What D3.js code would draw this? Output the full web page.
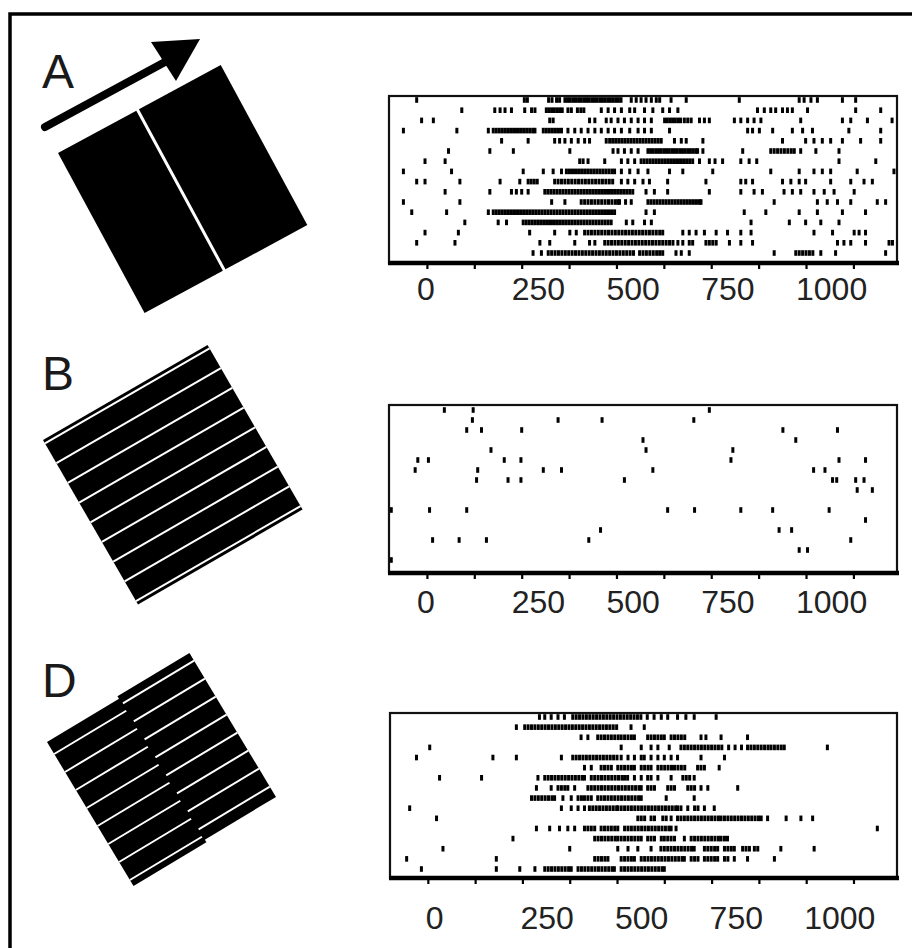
<!DOCTYPE html>
<html><head><meta charset="utf-8">
<script src="https://cdn.jsdelivr.net/npm/d3@7"></script>
<style>body{margin:0;background:#fff}svg{display:block}</style>
</head><body>
<svg id="c" width="912" height="948"></svg>
<script>
// ---------------- DATA ----------------
const panelLabels = ["A", "B", "D"];
const tickValues = [0, 125, 250, 375, 500, 625, 750, 875, 1000, 1125];
const tickLabels = [0, 250, 500, 750, 1000];
const timeDomain = [-100, 1240];   // ms
const trialCount = 16;

// spike times (ms) per trial, panel A
const spikesA = [
  [-27,257,265,321,330,342,350,364,371,378,385,392,400,407,414,421,428,435,442,449,456,463,470,477,484,491,498,505,512,539,552,565,578,592,605,614,644,684,824,982,995,1013,1030,1096,1131],
  [92,179,193,206,223,258,276,285,315,322,329,336,343,350,357,372,381,397,406,414,460,478,495,513,535,548,574,596,622,640,662,872,890,907,920,938,951,964,1004,1131,1197],
  [-14,17,324,333,429,443,473,486,504,521,539,557,574,592,627,634,641,648,655,662,669,679,688,697,719,732,745,811,828,846,863,881,986,1096,1118,1162,1227],
  [-62,79,162,175,183,191,199,207,215,223,231,239,247,255,263,271,279,285,307,315,323,331,339,347,355,372,390,407,425,443,460,478,495,513,535,557,574,592,640,846,859,877,912,964,991,1017,1113,1197],
  [197,267,337,350,364,381,399,416,429,473,482,490,498,506,514,522,530,538,546,554,562,570,578,586,594,602,610,618,653,671,684,728,938,999,1021,1043,1065,1096,1144,1197],
  [57,166,228,377,491,504,521,539,557,583,590,597,604,611,618,625,632,639,646,653,660,667,674,681,688,695,702,709,714,728,833,907,916,925,934,943,952,961,969,986,1026,1087],
  [-5,48,403,412,425,469,513,530,548,565,573,581,589,597,605,613,621,629,637,645,653,661,669,677,685,693,701,719,745,760,780,828,850,870,1087,1184],
  [-62,65,254,307,333,355,368,376,384,392,400,408,416,424,432,440,448,456,464,472,480,488,495,513,535,557,583,640,675,754,907,982,1021,1043,1065,1135,1232],
  [-27,-5,87,193,245,267,275,283,291,337,346,355,364,373,382,391,400,409,418,427,436,445,454,463,472,481,490,513,530,548,570,587,635,736,828,841,859,938,960,982,999,1065,1118,1153,1175],
  [48,166,223,236,250,267,311,319,327,335,343,351,359,367,375,383,391,399,407,415,423,431,439,447,455,463,471,479,487,495,503,511,519,527,535,543,578,600,635,745,828,863,885,942,964,986,1021,1048,1074,1127],
  [-62,87,329,364,407,416,425,434,443,452,461,470,479,488,497,504,508,524,539,583,591,599,607,615,623,631,639,647,655,663,671,679,687,695,703,711,719,723,916,1030,1056,1083,1118,1188,1210],
  [-40,52,162,175,183,191,199,207,215,223,231,239,247,255,263,271,279,287,295,303,311,319,327,335,343,351,359,367,375,383,391,399,407,415,423,431,439,447,455,463,471,479,487,495,578,600,837,894,982,1030,1096,1157],
  [100,188,210,254,262,270,278,286,294,302,310,318,326,334,342,350,358,366,374,382,390,398,406,414,422,430,438,446,454,462,470,478,486,526,543,574,592,855,956,999,1039,1087],
  [-5,83,271,337,377,394,416,425,434,443,452,461,470,479,488,497,506,515,524,533,542,551,560,569,578,587,596,605,614,622,675,692,710,732,763,793,828,855,1021,1070,1127,1140,1157],
  [-27,74,298,324,390,429,443,469,478,487,496,505,514,523,532,541,550,559,568,577,586,595,604,613,622,631,640,649,662,675,692,701,736,745,754,763,798,828,859,1083,1100,1118,1157,1219,1228],
  [280,302,320,329,338,347,356,365,374,383,392,401,410,419,428,437,446,455,464,473,482,491,500,509,518,527,536,545,561,570,579,588,597,606,614,622,657,671,692,916,973,982,991,1000,1009,1018,1039,1078,1210]
];

// spike times (ms) per trial, panel B
const spikesB = [
  [46,122,745],
  [120,346,462,704],
  [105,144,250,939,1083],
  [570,973],
  [169,578,807],
  [-24,4,204,248,802,1087,1157],
  [-31,134,307,355,596,1020,1050],
  [131,214,248,521,1070,1081,1131,1153],
  [1135,1175],
  [],
  [-94,7,105,635,706,828,912,1061],
  [1157],
  [458,929,962],
  [15,85,157,427,1118],
  [982,1004],
  [-94]
];

// spike times (ms) per trial, panel D
const spikesD = [
  [295,309,326,344,361,383,392,401,410,419,428,437,446,455,464,473,482,491,500,509,518,527,536,545,554,563,580,598,617,634,660,682,704,762],
  [234,256,265,274,283,292,301,310,319,328,337,346,355,364,373,382,391,400,409,418,427,436,445,454,463,472,481,490,499,537,572],
  [405,423,449,458,467,476,485,494,503,511,520,529,538,546,581,590,599,608,617,625,643,652,661,670,679,722,735,775,845],
  [5,511,564,590,608,638,669,678,687,696,705,714,723,732,741,750,759,768,777,795,812,829,845,854,863,872,881,890,899,907,916,925,934,942,1056],
  [-30,172,234,353,383,392,401,410,419,428,437,446,455,464,473,482,491,500,511,529,546,564,572,590,608,625,643,660,722,784],
  [414,432,458,467,476,485,502,511,520,529,538,546,564,573,582,590,608,617,626,635,644,652,661,670,679,713,722,731,770],
  [31,142,291,309,318,327,336,345,354,363,372,381,390,399,408,414,432,441,450,459,468,477,486,495,504,513,520,528,546,564,581,590,608,643,674,683,692,704],
  [287,326,344,353,362,370,388,423,432,441,450,459,468,477,486,495,504,513,522,531,540,549,558,564,581,590,599,634,643,652,687,696,705,722,740,819],
  [274,283,292,301,310,319,328,335,357,379,397,406,414,423,432,449,458,467,476,485,494,503,512,521,530,539,548,557,564,630,704],
  [-48,353,379,397,414,427,436,445,454,463,472,481,490,499,502,511,520,529,538,547,556,565,574,583,592,601,610,619,628,637,646,655,660,669,687,705,714,731,757],
  [23,555,564,573,590,599,621,630,643,660,669,678,687,696,705,714,723,732,741,750,759,768,775,784,793,802,811,820,829,838,847,856,865,874,881,898,947,986,1017],
  [287,322,348,370,388,414,423,432,441,458,467,476,485,494,502,520,529,538,547,556,565,574,583,592,601,610,619,628,637,643,656,1188],
  [225,441,450,459,468,477,486,495,502,511,520,529,538,547,556,564,581,590,599,617,625,634,643,652,678,696,705,714,723,732,741,750,759,768,775,784,792],
  [40,375,502,529,555,590,616,625,634,643,652,661,670,679,688,697,704,731,740,749,758,766,784,793,802,810,832,841,850,863,872,933,1021],
  [-56,181,441,450,459,468,476,511,520,529,538,546,564,573,582,591,600,609,618,627,636,645,654,663,672,678,696,705,714,731,740,749,758,766,784,793,810,845,916],
  [-17,181,243,283,309,318,327,336,345,354,363,372,379,397,406,415,424,433,442,451,460,469,478,487,493,511,520,529,538,547,556,565,574,583,592,601,610,619,625]
];

// ---------------- LAYOUT ----------------
const svg = d3.select("#c");
const W = 912, H = 948;
const INK = "#000";
const FONT = "'Liberation Sans', Arial, Helvetica, sans-serif";

// outer frame (top + left)
svg.append("path")
  .attr("d", `M10,${H} V14 H${W}`)
  .attr("fill", "none").attr("stroke", INK).attr("stroke-width", 3.5);

const panels = [
  { spikes: spikesA, x0: 389, x1: 897, y0: 96,  y1: 263, r0: 100, r1: 253, lblBase: 300, lblDx: -10 },
  { spikes: spikesB, x0: 389, x1: 897, y0: 405, y1: 573, r0: 410, r1: 560, lblBase: 613, lblDx: -10 },
  { spikes: spikesD, x0: 390, x1: 897, y0: 713, y1: 878, r0: 717, r1: 869, lblBase: 929, lblDx: -2 }
];

panels.forEach(p => {
  const g = svg.append("g");
  const x = d3.scaleLinear().domain(timeDomain).range([p.x0, p.x1]);
  const y = d3.scaleLinear().domain([0, trialCount - 1]).range([p.r0, p.r1]);

  // spikes
  p.spikes.forEach((row, i) => {
    g.append("g").selectAll("rect").data(row).join("rect")
      .attr("x", d => x(d) - 1.5)
      .attr("y", y(i) - 2.8)
      .attr("width", 3)
      .attr("height", 5.6)
      .attr("fill", INK);
  });

  // box
  g.append("rect")
    .attr("x", p.x0).attr("y", p.y0)
    .attr("width", p.x1 - p.x0).attr("height", p.y1 - p.y0)
    .attr("fill", "none").attr("stroke", "#111").attr("stroke-width", 2.2);

  // axis
  const axis = d3.axisBottom(x)
    .tickValues(tickValues)
    .tickSize(4)
    .tickSizeOuter(0)
    .tickFormat(() => "");
  const ax = g.append("g").attr("transform", `translate(0,${p.y1})`).call(axis);
  ax.select(".domain").attr("stroke", INK).attr("stroke-width", 4.5)
    .attr("d", `M${p.x0 - 1},0H${p.x1 + 2}`);
  ax.selectAll(".tick line").attr("stroke", INK).attr("stroke-width", 2.2)
    .attr("y1", 1).attr("y2", 6);

  // tick labels
  g.append("g").selectAll("text").data(tickLabels).join("text")
    .attr("x", d => x(d) + p.lblDx)
    .attr("y", p.lblBase)
    .attr("text-anchor", "start")
    .attr("font-family", FONT)
    .attr("font-size", 32)
    .attr("fill", "#222")
    .text(d => d);
});

// ---------------- STIMULUS PICTOGRAMS ----------------
// panel letters
const letterPos = [[42, 88], [42, 390], [42, 697]];
svg.append("g").selectAll("text").data(panelLabels).join("text")
  .attr("x", (d, i) => letterPos[i][0])
  .attr("y", (d, i) => letterPos[i][1])
  .attr("font-family", FONT)
  .attr("font-size", 48)
  .attr("fill", "#1a1a1a")
  .text(d => d);

// A: two abutting bars + arrow
{
  const g = svg.append("g").attr("transform", "translate(58,153) rotate(-28.4)");
  g.append("rect").attr("x", 0).attr("y", 0).attr("width", 89).attr("height", 182).attr("fill", INK);
  g.append("rect").attr("x", 92).attr("y", 0).attr("width", 93).attr("height", 182).attr("fill", INK);
  const a = svg.append("g");
  a.append("line").attr("x1", 45).attr("y1", 127).attr("x2", 165).attr("y2", 62)
    .attr("stroke", INK).attr("stroke-width", 8).attr("stroke-linecap", "round");
  a.append("path").attr("d", "M151,42 L200,39 L176,81 Z").attr("fill", INK);
}

// B: square grating
{
  const S = 190;
  const g = svg.append("g").attr("transform", "translate(43,440) rotate(-30)");
  g.append("rect").attr("width", S).attr("height", S).attr("fill", INK);
  d3.range(9).forEach(k => {
    g.append("line").attr("x1", 0).attr("x2", S)
      .attr("y1", 4 + k * 22.75).attr("y2", 4 + k * 22.75)
      .attr("stroke", "#fff").attr("stroke-width", 2);
  });
}

// D: grating with phase-shifted halves
{
  const S = 168, P = 21;
  const g = svg.append("g").attr("transform", "translate(47,742) rotate(-31)");
  g.append("rect").attr("x", 0).attr("y", 0).attr("width", S / 2 + 1).attr("height", S).attr("fill", INK);
  g.append("rect").attr("x", S / 2).attr("y", -3).attr("width", S / 2).attr("height", S).attr("fill", INK);
  d3.range(8).forEach(k => {
    g.append("line").attr("x1", 0).attr("x2", S / 2)
      .attr("y1", 14 + k * P).attr("y2", 14 + k * P)
      .attr("stroke", "#fff").attr("stroke-width", 2);
    g.append("line").attr("x1", S / 2 + 1).attr("x2", S)
      .attr("y1", 6 + k * P).attr("y2", 6 + k * P)
      .attr("stroke", "#fff").attr("stroke-width", 2);
  });
}
</script>
</body></html>
